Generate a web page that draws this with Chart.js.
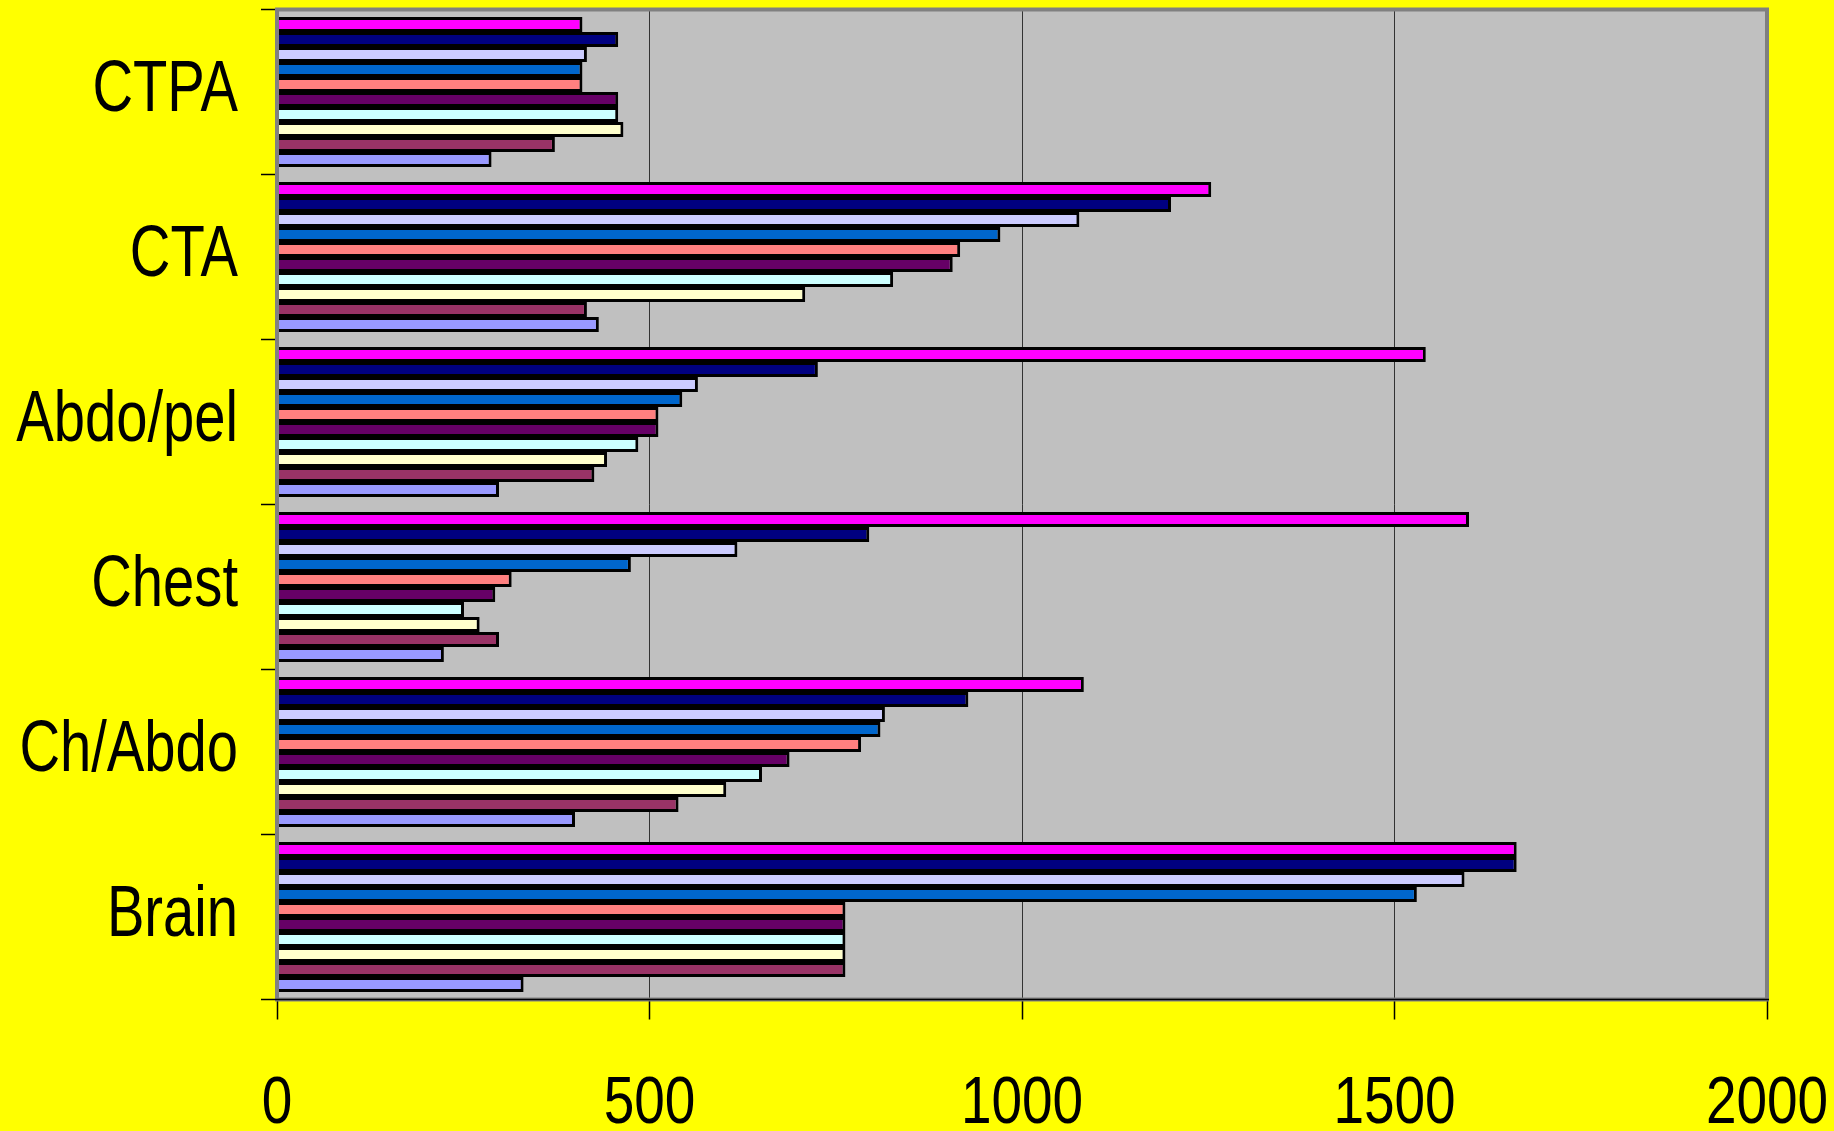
<!DOCTYPE html>
<html>
<head>
<meta charset="utf-8">
<script src="https://cdn.jsdelivr.net/npm/chart.js@4.4.1/dist/chart.umd.min.js"></script>
<style>
  html, body { margin: 0; padding: 0; background: #ffff00; }
  #wrap { width: 1834px; height: 1131px; }
</style>
</head>
<body>
<div id="wrap"><canvas id="c" width="1834" height="1131"></canvas></div>
<script>
// Examination types, listed bottom to top
const categories = ['Brain', 'Ch/Abdo', 'Chest', 'Abdo/pel', 'CTA', 'CTPA'];
const xTicks = [0, 500, 1000, 1500, 2000];

// One array per series, values in category order
const series1  = [331,  400,  224,  298,  432, 288];
const series2  = [763,  539,  298,  426,  416, 373];
const series3  = [763,  603,  272,  443,  709, 465];
const series4  = [763,  651,  251,  485,  827, 458];
const series5  = [763,  688,  293,  512,  907, 458];
const series6  = [763,  784,  315,  512,  917, 410];
const series7  = [1530, 810,  475,  544,  971, 410];
const series8  = [1594, 816,  618,  565, 1077, 416];
const series9  = [1664, 928,  795,  726, 1200, 458];
const series10 = [1664, 1083, 1600, 1542, 1254, 410];

const seriesNames  = ['Series1','Series2','Series3','Series4','Series5','Series6','Series7','Series8','Series9','Series10'];
const seriesValues = [series1, series2, series3, series4, series5, series6, series7, series8, series9, series10];
const seriesColors = ['#9999ff','#993366','#ffffcc','#ccffff','#660066','#ff8080','#0066cc','#ccccff','#000080','#ff00ff'];

// Highest series sits at the top of each cluster
const datasets = seriesValues.map((vals, i) => ({
  label: seriesNames[i],
  data: vals,
  backgroundColor: seriesColors[i],
  borderColor: '#000000',
  borderWidth: 3,
  borderSkipped: 'start',
  inflateAmount: 0,
  categoryPercentage: 150 / 165,
  barPercentage: 1.0
})).reverse();

// Plot area edges (category band of 165px, cluster of 15px bars)
const CHART_LEFT = 277, CHART_TOP = 9.5, CHART_RIGHT = 1767, CHART_BOTTOM = 999.5;
const FONT = "'Liberation Sans', Arial, sans-serif";

// Grey plot area with a darker frame
const plotFrame = {
  id: 'plotFrame',
  beforeDraw(chart) {
    const { ctx, chartArea: a } = chart;
    ctx.save();
    ctx.fillStyle = '#c0c0c0';
    ctx.fillRect(a.left, a.top, a.right - a.left, a.bottom - a.top);
    ctx.restore();
  },
  afterDatasetsDraw(chart) {
    const { ctx, chartArea: a } = chart;
    ctx.save();
    ctx.strokeStyle = '#808080';
    ctx.lineWidth = 4;
    ctx.strokeRect(a.left, a.top, a.right - a.left, a.bottom - a.top);
    ctx.strokeStyle = '#000000';
    ctx.lineWidth = 1.5;
    ctx.beginPath();
    ctx.moveTo(a.left - 2, a.bottom);
    ctx.lineTo(a.right + 2, a.bottom);
    ctx.stroke();
    ctx.restore();
  }
};

// Narrow axis labels: condensed horizontally, placed from the scales
function drawNarrow(ctx, text, x, y, size, squeeze, align) {
  ctx.save();
  ctx.font = size + 'px ' + FONT;
  ctx.fillStyle = '#000000';
  ctx.textBaseline = 'alphabetic';
  ctx.textAlign = align;
  ctx.translate(x, y);
  ctx.scale(squeeze, 1);
  ctx.fillText(text, 0, 0);
  ctx.restore();
}

const narrowLabels = {
  id: 'narrowLabels',
  afterDraw(chart) {
    const { ctx } = chart;
    const xs = chart.scales.x, ys = chart.scales.y;
    xTicks.forEach(v => {
      drawNarrow(ctx, String(v), xs.getPixelForValue(v), 1123, 67, 0.82, 'center');
    });
    categories.forEach((c, i) => {
      drawNarrow(ctx, c, 238, ys.getPixelForValue(i) + 19, 72, 0.78, 'right');
    });
  }
};

new Chart(document.getElementById('c'), {
  type: 'bar',
  data: { labels: categories, datasets },
  plugins: [plotFrame, narrowLabels],
  options: {
    indexAxis: 'y',
    responsive: false,
    animation: false,
    devicePixelRatio: 1,
    layout: { padding: { left: 0, top: CHART_TOP, right: 1834 - CHART_RIGHT, bottom: 0 } },
    plugins: { legend: { display: false }, tooltip: { enabled: false } },
    scales: {
      x: {
        type: 'linear',
        min: xTicks[0],
        max: xTicks[xTicks.length - 1],
        afterBuildTicks(scale) { scale.ticks = xTicks.map(v => ({ value: v })); },
        afterFit(scale) { scale.height = 1131 - CHART_BOTTOM; scale.paddingLeft = 0; scale.paddingRight = 0; },
        grid: { color: '#333333', lineWidth: 1, drawTicks: true, tickLength: 20, tickColor: '#000000', tickWidth: 1.5 },
        border: { display: false },
        ticks: { display: false }
      },
      y: {
        type: 'category',
        reverse: true,
        offset: true,
        afterFit(scale) { scale.width = CHART_LEFT; scale.paddingTop = 0; scale.paddingBottom = 0; },
        grid: { offset: true, drawOnChartArea: false, drawTicks: true, tickLength: 16, tickColor: '#000000', tickWidth: 1.5 },
        border: { display: false },
        ticks: { display: false }
      }
    }
  }
});
</script>
</body>
</html>
